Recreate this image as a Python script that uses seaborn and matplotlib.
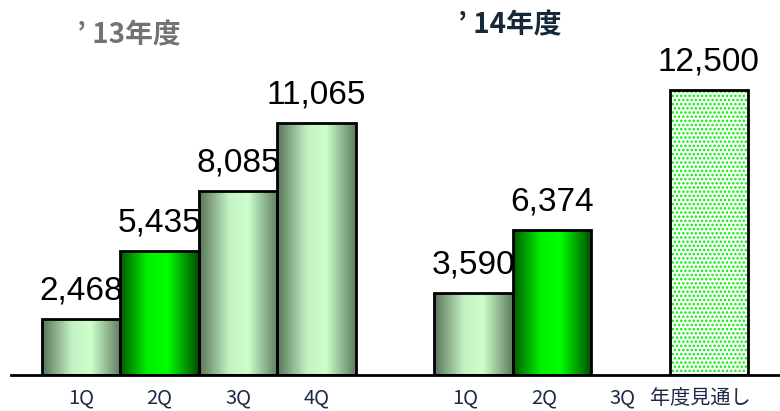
import numpy as np
import pandas as pd
import matplotlib
matplotlib.use("Agg")
import matplotlib.pyplot as plt
from matplotlib.colors import LinearSegmentedColormap
from matplotlib.patches import Rectangle
from matplotlib.transforms import ScaledTranslation
import seaborn as sns

# Quarterly results for FY'13 and FY'14 (cumulative), plus the FY'14 full-year outlook
labels_13 = ["1Q", "2Q", "3Q", "4Q"]
values_13 = [2468, 5435, 8085, 11065]
labels_14 = ["1Q", "2Q", "3Q", "年度見通し"]
values_14 = [3590, 6374, np.nan, 12500]
fills_13 = ["pale", "bright", "pale", "pale"]
fills_14 = ["pale", "bright", None, "dotted"]
title_13 = "’ 13年度"
title_14 = "’ 14年度"

sns.set_theme(style="white")
plt.rcParams["font.family"] = ["Noto Sans CJK JP", "DejaVu Sans"]
plt.rcParams["hatch.linewidth"] = 1.2

# one slot per bar, with an empty slot separating the two fiscal years
slot_keys = [f"13-{q}" for q in labels_13] + ["gap"] + [f"14-{q}" for q in labels_14]
slot_labels = labels_13 + [""] + labels_14
slot_values = values_13 + [np.nan] + values_14
slot_fills = fills_13 + [None] + fills_14
df = pd.DataFrame({"slot": slot_keys, "value": slot_values})

fig = plt.figure(figsize=(7.8, 4.11), dpi=100)
ax = fig.add_axes([11 / 780, 36 / 411, 768 / 780, 375 / 411])

sns.barplot(data=df, x="slot", y="value", order=slot_keys, width=1.0,
            color="white", edgecolor="black", linewidth=2, ax=ax, errorbar=None)

xlim = (-0.895, 8.895)
ylim = (0, 16450)

cmaps = {
    "pale": LinearSegmentedColormap.from_list(
        "pale", [(0.0, "#587458"), (0.38, "#c4f2c4"), (0.62, "#ccffcc"), (1.0, "#5f7c5f")]),
    "bright": LinearSegmentedColormap.from_list(
        "bright", [(0.0, "#005a00"), (0.35, "#00f000"), (0.6, "#00ff00"), (1.0, "#004c00")]),
}
grad = np.linspace(0, 1, 256).reshape(1, -1)

for patch in ax.patches:
    h = patch.get_height()
    if not np.isfinite(h) or h <= 0:
        continue
    x0, w = patch.get_x(), patch.get_width()
    idx = int(round(x0 + w / 2))
    style = slot_fills[idx]
    if style in cmaps:
        patch.set_facecolor("none")
        im = ax.imshow(grad, cmap=cmaps[style], aspect="auto",
                       extent=(x0, x0 + w, 0, h), zorder=patch.get_zorder() - 0.1,
                       interpolation="bilinear")
        im.set_clip_path(patch)
    elif style == "dotted":
        base = Rectangle((x0, 0), w, h, facecolor="white", edgecolor="none",
                         zorder=patch.get_zorder() - 0.1)
        dots = Rectangle((x0, 0), w, h, facecolor="none", edgecolor="#00ee00",
                         linewidth=0, hatch="....", zorder=patch.get_zorder() - 0.05)
        ax.add_patch(base)
        ax.add_patch(dots)
        patch.set_facecolor("none")
    # value label above the bar
    ax.annotate(f"{slot_values[idx]:,.0f}", (x0 + w / 2, h), xytext=(0, 9),
                textcoords="offset points", ha="center", va="bottom",
                fontsize=24, family=["Liberation Sans Narrow", "Liberation Sans", "DejaVu Sans"],
                color="black")

ax.set_xlim(*xlim)
ax.set_ylim(*ylim)

# axes styling: only a heavy baseline with short upward ticks at both ends
for side in ["left", "right", "top"]:
    ax.spines[side].set_visible(False)
ax.spines["bottom"].set_color("black")
ax.spines["bottom"].set_linewidth(2)
ax.set_yticks([])
ax.set_xticks(range(len(slot_keys)))
ax.set_xticklabels(slot_labels, fontsize=14.5, color="#1c2b48")
ax.tick_params(axis="x", which="major", length=0, pad=9)
ax.set_xticks(list(xlim), minor=True)
ax.tick_params(axis="x", which="minor", direction="in", length=12, width=1.5, color="black")
ax.set_xlabel("")
ax.set_ylabel("")

# FY'14 labels sit slightly left of their bars
for i, lbl in enumerate(ax.get_xticklabels()):
    if i > 4:
        lbl.set_transform(lbl.get_transform() + ScaledTranslation(-8 / 100, 0, fig.dpi_scale_trans))

fig.text(77 / 780, 1 - 35 / 411, title_13, ha="left", va="center",
         fontsize=20, fontweight="bold", color="#737373")
fig.text(458 / 780, 1 - 25 / 411, title_14, ha="left", va="center",
         fontsize=20, fontweight="bold", color="#17283a")

fig.savefig("out.png", dpi=100)
